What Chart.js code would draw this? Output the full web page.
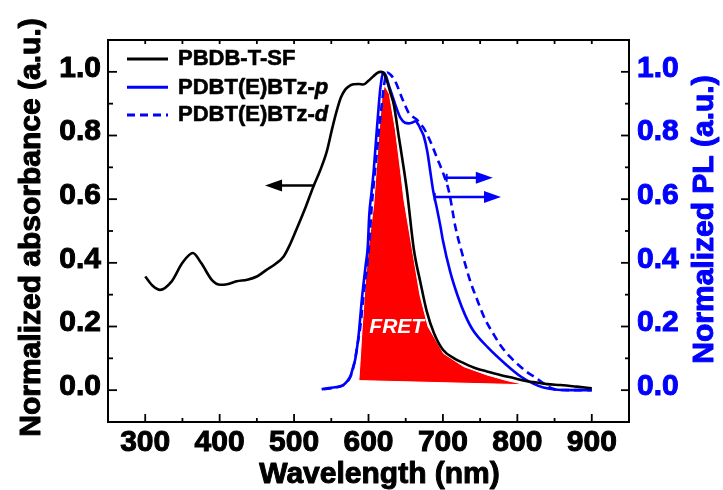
<!DOCTYPE html>
<html><head><meta charset="utf-8">
<script src="https://cdn.jsdelivr.net/npm/chart.js@4/dist/chart.umd.min.js"></script>
<style>html,body{margin:0;padding:0;background:#fff}</style>
</head><body>
<canvas id="c" width="723" height="490"></canvas>
<script>
// ---------- data ----------
const wavelengthAbs = [300,310,320,335,350,364,375,390,401,410,423,437,450,463,474,486,495,505,516,526,535,544,551,557,563,569,575,580,587,593,600,606,612,616,620,625,630,634,641,648,652,661,670,678,688,700,715,728,745,759,777,795,813,826,840,858,880,900];
const absorbance    = [0.357,0.328,0.315,0.34,0.40,0.431,0.40,0.345,0.331,0.333,0.342,0.347,0.357,0.378,0.395,0.42,0.46,0.515,0.578,0.64,0.69,0.75,0.82,0.875,0.92,0.945,0.957,0.961,0.962,0.960,0.972,0.985,0.997,1.0,0.997,0.97,0.93,0.897,0.792,0.687,0.62,0.441,0.336,0.25,0.179,0.127,0.10,0.085,0.068,0.059,0.048,0.038,0.028,0.024,0.019,0.016,0.011,0.006];

const wavelengthP = [537,545,555,562,567,572,576,579,582,585,587,591,596,599,601,604,607,611,614,616,620,623,627,632,636,643,649,654,658,663,667,671,674,679,683,687,692,697,700,710,720,730,740,760,785,805,820,835,850,870,900];
const plP         = [0.003,0.006,0.009,0.012,0.018,0.03,0.045,0.07,0.095,0.14,0.179,0.284,0.389,0.45,0.55,0.62,0.69,0.813,0.9,0.95,0.998,0.99,0.96,0.925,0.897,0.855,0.84,0.838,0.84,0.845,0.834,0.815,0.80,0.75,0.687,0.625,0.57,0.51,0.47,0.37,0.295,0.235,0.19,0.135,0.08,0.042,0.022,0.008,0.002,0,0];

const wavelengthD = [540,555,565,572,577,581,585,589,593,598,601,604.5,608,611,615,618,621,625,630,636,645,654,660,665,670,674,683,692,701,708,717,724,730,737,745,757,767,777,790,802,814,824,833,840,847,855,875,900];
const plD         = [0.003,0.008,0.014,0.028,0.05,0.085,0.14,0.2,0.29,0.39,0.46,0.583,0.67,0.74,0.84,0.9,0.96,0.998,0.99,0.97,0.918,0.871,0.858,0.85,0.835,0.824,0.782,0.73,0.677,0.625,0.51,0.445,0.395,0.34,0.29,0.221,0.18,0.142,0.105,0.078,0.055,0.04,0.025,0.014,0.005,0.001,0,0];

// FRET overlap region outline (closed)
const fretX = [587,589,591,595.7,600,607,613.6,618,621.5,628,636,643,647.5,659,669,680,696,701,728,759,786,811,587];
const fretY = [0.03,0.1,0.179,0.336,0.45,0.583,0.792,0.918,0.958,0.93,0.82,0.69,0.6,0.44,0.3,0.2,0.135,0.115,0.074,0.048,0.03,0.017,0.03];

const xTicks = [300,400,500,600,700,800,900];
const xMinor = [350,450,550,650,750,850];
const yTicks = [0,0.2,0.4,0.6,0.8,1.0];
const yMinor = [0.1,0.3,0.5,0.7,0.9];

const seriesNames  = ['PBDB-T-SF','PDBT(E)BTz-','PDBT(E)BTz-'];
const seriesSuffix = ['','p','d'];
const seriesColors = ['#000000','#0000ff','#0000ff'];
const seriesDash   = [[],[],[8,5]];

const arrowFrom = [526,705,689];
const arrowTo   = [461,767,778];
const arrowY    = [0.643,0.667,0.607];
const arrowAxis = ['y','y2','y2'];

const fretLabel = {text:'FRET', x:638, y:0.181};

// ---------- chart ----------
const FONT = '"Liberation Sans", Arial, Helvetica, sans-serif';
const pts = (xs, ys) => xs.map((x, i) => ({x, y: ys[i]}));

function boldText(ctx, t, x, y, sw) {
  ctx.lineWidth = sw; ctx.strokeStyle = ctx.fillStyle; ctx.lineJoin = 'round';
  ctx.strokeText(t, x, y); ctx.fillText(t, x, y);
}

const deco = {
  id: 'deco',
  beforeDraw(chart) {
    const c = chart.ctx; c.save(); c.fillStyle = '#fff'; c.fillRect(0,0,chart.width,chart.height); c.restore();
  },
  afterDraw(chart) {
    const {ctx, chartArea: a, scales: {x, y, y2}} = chart;
    ctx.save();
    // FRET label
    ctx.font = 'italic bold 21px ' + FONT;
    ctx.fillStyle = '#fff'; ctx.textAlign = 'center'; ctx.textBaseline = 'alphabetic';
    ctx.fillText(fretLabel.text, x.getPixelForValue(fretLabel.x), y.getPixelForValue(fretLabel.y));
    // arrows
    arrowFrom.forEach((f, i) => {
      const sc = arrowAxis[i] === 'y' ? y : y2;
      const col = arrowAxis[i] === 'y' ? '#000' : '#0000ff';
      const p0 = x.getPixelForValue(f), p1 = x.getPixelForValue(arrowTo[i]), py = sc.getPixelForValue(arrowY[i]);
      const d = Math.sign(p1 - p0);
      ctx.strokeStyle = col; ctx.fillStyle = col; ctx.lineWidth = 2.5;
      ctx.beginPath(); ctx.moveTo(p0, py); ctx.lineTo(p1 - d * 12, py); ctx.stroke();
      ctx.beginPath(); ctx.moveTo(p1, py); ctx.lineTo(p1 - d * 17, py - 6); ctx.lineTo(p1 - d * 17, py + 6); ctx.closePath(); ctx.fill();
      if (i > 0) { ctx.lineWidth = 2; ctx.beginPath(); ctx.moveTo(p0, py - 4); ctx.lineTo(p0, py + 4); ctx.stroke(); }
    });
    // frame
    ctx.strokeStyle = '#000'; ctx.lineWidth = 2;
    ctx.strokeRect(a.left, a.top, a.right - a.left, a.bottom - a.top);
    const line = (x1, y1, x2, y2_) => { ctx.beginPath(); ctx.moveTo(x1, y1); ctx.lineTo(x2, y2_); ctx.stroke(); };
    ctx.lineWidth = 1.8;
    xTicks.forEach(v => { const p = x.getPixelForValue(v); line(p, a.bottom, p, a.bottom - 8); line(p, a.top, p, a.top + 4); });
    xMinor.forEach(v => { const p = x.getPixelForValue(v); line(p, a.bottom, p, a.bottom - 4); line(p, a.top, p, a.top + 4); });
    yTicks.forEach(v => { const p = y.getPixelForValue(v); line(a.left, p, a.left + 9, p); });
    yMinor.forEach(v => { const p = y.getPixelForValue(v); line(a.left, p, a.left + 5, p); });
    yTicks.forEach(v => { const p = y2.getPixelForValue(v); line(a.right, p, a.right - 8, p); });
    yMinor.forEach(v => { const p = y2.getPixelForValue(v); line(a.right, p, a.right - 4, p); });
    // legend
    const lgLineY = [59, 87.3, 115], lgBase = [65, 94.3, 120.7];
    seriesNames.forEach((n, i) => {
      ctx.strokeStyle = seriesColors[i]; ctx.lineWidth = 3; ctx.setLineDash(seriesDash[i]);
      line(127, lgLineY[i], 168, lgLineY[i]);
      ctx.setLineDash([]);
      ctx.fillStyle = '#000'; ctx.textAlign = 'left'; ctx.textBaseline = 'alphabetic';
      ctx.font = 'bold 22px ' + FONT;
      boldText(ctx, n, 178, lgBase[i], 0.6);
      if (seriesSuffix[i]) {
        const w = ctx.measureText(n).width;
        ctx.font = 'italic bold 22px ' + FONT;
        boldText(ctx, seriesSuffix[i], 178 + w, lgBase[i], 0.6);
      }
    });
    // axis titles
    ctx.font = 'bold 30px ' + FONT;
    ctx.textAlign = 'center'; ctx.textBaseline = 'alphabetic';
    ctx.fillStyle = '#000';
    boldText(ctx, 'Wavelength (nm)', 379.5, 483, 1);
    ctx.save(); ctx.translate(40, 227.5); ctx.rotate(-Math.PI / 2);
    boldText(ctx, 'Normalized absorbance (a.u.)', 0, 0, 1); ctx.restore();
    ctx.save(); ctx.translate(713, 219.5); ctx.rotate(-Math.PI / 2);
    ctx.fillStyle = '#0000ff';
    boldText(ctx, 'Normalized PL (a.u.)', 0, 0, 1); ctx.restore();
    ctx.restore();
  }
};

const tickFont = {family: FONT, size: 30, weight: 'bold', lineHeight: '7px'};

new Chart(document.getElementById('c'), {
  type: 'line',
  data: {
    datasets: [
      {label: 'PBDB-T-SF', data: pts(wavelengthAbs, absorbance), yAxisID: 'y', borderColor: '#000', borderWidth: 2.6, pointRadius: 0, cubicInterpolationMode: 'monotone', fill: false, order: 1},
      {label: 'PDBT(E)BTz-p', data: pts(wavelengthP, plP), yAxisID: 'y2', borderColor: '#0000ff', borderWidth: 2.6, pointRadius: 0, cubicInterpolationMode: 'monotone', fill: false, order: 2},
      {label: 'PDBT(E)BTz-d', data: pts(wavelengthD, plD), yAxisID: 'y2', borderColor: '#0000ff', borderWidth: 2.6, borderDash: [8, 5], pointRadius: 0, cubicInterpolationMode: 'monotone', fill: false, order: 3},
      {label: 'FRET', data: pts(fretX, fretY), yAxisID: 'y', borderColor: '#ffffff', borderWidth: 1, backgroundColor: '#ff0000', fill: 'shape', pointRadius: 0, tension: 0, order: 4}
    ]
  },
  options: {
    responsive: false, animation: false, devicePixelRatio: 1,
    layout: {padding: {top: 40, left: 0, right: 0, bottom: 0}},
    plugins: {legend: {display: false}, tooltip: {enabled: false}},
    scales: {
      x: {
        type: 'linear', position: 'bottom', min: 250, max: 950,
        afterBuildTicks: s => { s.ticks = xTicks.map(v => ({value: v})); },
        afterFit: s => { s.height = 68; },
        grid: {display: false, drawTicks: false}, border: {display: false},
        ticks: {color: '#000', textStrokeColor: '#000', textStrokeWidth: 1, padding: 3, maxRotation: 0, autoSkip: false, font: {family: FONT, size: 30, weight: 'bold'}}
      },
      y: {
        type: 'linear', position: 'left', min: -0.1, max: 1.1,
        afterBuildTicks: s => { s.ticks = yTicks.map(v => ({value: v})); },
        afterFit: s => { s.width = 108; },
        grid: {display: false, drawTicks: false}, border: {display: false},
        ticks: {color: '#000', textStrokeColor: '#000', textStrokeWidth: 1, padding: 7, autoSkip: false, font: tickFont, callback: v => [Number(v).toFixed(1), '']}
      },
      y2: {
        type: 'linear', position: 'right', min: -0.1, max: 1.1,
        afterBuildTicks: s => { s.ticks = yTicks.map(v => ({value: v})); },
        afterFit: s => { s.width = 94; },
        grid: {display: false, drawTicks: false}, border: {display: false},
        ticks: {color: '#0000ff', textStrokeColor: '#0000ff', textStrokeWidth: 1, padding: 8, autoSkip: false, font: tickFont, callback: v => [Number(v).toFixed(1), '']}
      }
    }
  },
  plugins: [deco]
});
</script>
</body></html>
